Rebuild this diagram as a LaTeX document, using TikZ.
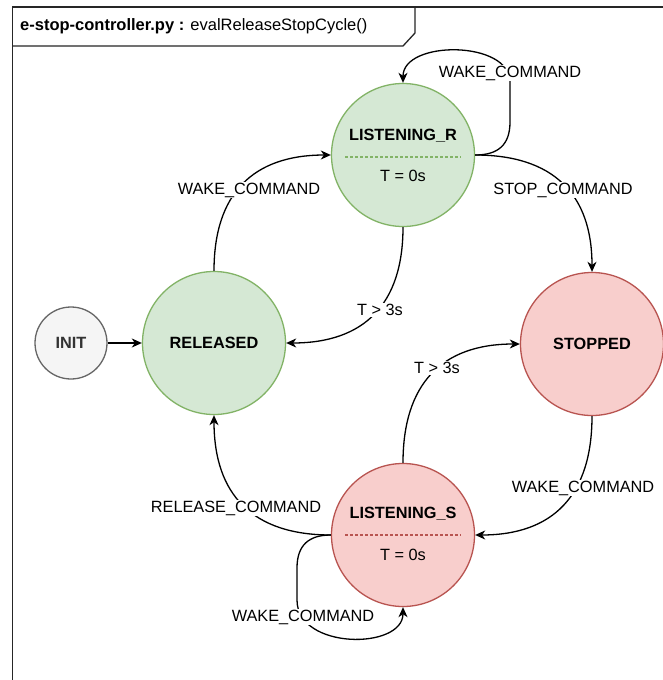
\documentclass[tikz,border=0pt]{standalone}
\usepackage{fontspec}
\setmainfont{Liberation Sans}
\usetikzlibrary{arrows.meta,calc}
\definecolor{gfill}{HTML}{D5E8D4}
\definecolor{gline}{HTML}{82B366}
\definecolor{rfill}{HTML}{F8CECC}
\definecolor{rline}{HTML}{B85450}
\definecolor{ifill}{HTML}{F5F5F5}
\definecolor{iline}{HTML}{666666}
\definecolor{itext}{HTML}{333333}
\begin{document}
\begin{tikzpicture}[x=1pt,y=-1pt,
  font=\fontsize{16.3}{19.6}\selectfont,
  state/.style={circle, minimum size=143pt, inner sep=0pt, line width=1.3pt,
    font=\fontsize{16.3}{19.6}\selectfont\bfseries},
  gstate/.style={state, draw=gline, fill=gfill},
  rstate/.style={state, draw=rline, fill=rfill},
  istate/.style={circle, minimum size=72pt, inner sep=0pt, line width=1.3pt,
    draw=iline, fill=ifill, text=itext, font=\fontsize{16.3}{19.6}\selectfont\bfseries},
  edge/.style={line width=1.3pt, -{Stealth[length=10pt,width=9pt,inset=3pt]}},
  lbl/.style={fill=white, inner sep=1pt},
  inner/.style={inner sep=0pt},
  innerb/.style={inner sep=0pt, font=\fontsize{16.3}{19.6}\selectfont\bfseries},
  frame/.style={line width=1.3pt, draw=black!85},
  divider/.style={line width=1.3pt, dash pattern=on 3pt off 2pt},
]
\useasboundingbox (0,0) rectangle (663,680);
\fill[white] (0,0) rectangle (663,680);

% frame
\draw[frame] (12.5,720) -- (12.5,7) -- (720,7);
\draw[frame] (12.5,46) -- (403,46) -- (415,33) -- (415,7);
\node[anchor=west, inner sep=0pt, font=\fontsize{16.5}{19.8}\selectfont] (title) at (20,26.5)
  {\textbf{e-stop-controller.py :} evalReleaseStopCycle()};

% states
\node[gstate] (LR) at (403,155) {};
\node[innerb] (LRname) at (403,136) {LISTENING\_R};
\node[inner] (LRtime) at (403,176) {T = 0s};
\draw[divider, gline] (345,157) -- (461,157);

\node[gstate] (REL) at (214,343) {RELEASED};
\node[rstate] (ST) at (592,344) {STOPPED};

\node[rstate] (LS) at (403,535) {};
\node[innerb] (LSname) at (403,514) {LISTENING\_S};
\node[inner] (LStime) at (403,555) {T = 0s};
\draw[divider, rline] (345,535) -- (461,535);

\node[istate] (INIT) at (71,343) {INIT};

% transitions (quadratic curves written as cubic ones)
\draw[edge] (INIT) -- (REL);
\draw[edge] (REL.north) .. controls ($(REL.north)!2/3!(214,155)$)
  and ($(LR.west)!2/3!(214,155)$) .. (LR.west)
  node[lbl] at (249,190) {WAKE\_COMMAND};
\draw[edge] (LR.south) .. controls ($(LR.south)!2/3!(403,343)$)
  and ($(REL.east)!2/3!(403,343)$) .. (REL.east)
  node[lbl] at (380,310) {T > 3s};
\draw[edge] (LR.east) .. controls ($(LR.east)!2/3!(592,155)$)
  and ($(ST.north)!2/3!(592,155)$) .. (ST.north)
  node[lbl] at (563,190) {STOP\_COMMAND};
\draw[edge] (LR.east) .. controls (498,155) and (510,145) .. (510,122) -- (510,82)
  .. controls (510,40) and (403,40) .. (LR.north)
  node[lbl] at (510,73) {WAKE\_COMMAND};
\draw[edge] (LS.north) .. controls ($(LS.north)!2/3!(403,344)$)
  and ($(ST.west)!2/3!(403,344)$) .. (ST.west)
  node[lbl] at (437,368) {T > 3s};
\draw[edge] (ST.south) .. controls ($(ST.south)!2/3!(592,535)$)
  and ($(LS.east)!2/3!(592,535)$) .. (LS.east)
  node[lbl] at (583,488) {WAKE\_COMMAND};
\draw[edge] (LS.west) .. controls ($(LS.west)!2/3!(214,535)$)
  and ($(REL.south)!2/3!(214,535)$) .. (REL.south)
  node[lbl] at (236,508) {RELEASE\_COMMAND};
\draw[edge] (LS.west) .. controls (309,535) and (297,545) .. (297,568) -- (297,600)
  .. controls (297,650) and (403,650) .. (LS.south)
  node[lbl] at (303,617) {WAKE\_COMMAND};
\end{tikzpicture}
\end{document}
